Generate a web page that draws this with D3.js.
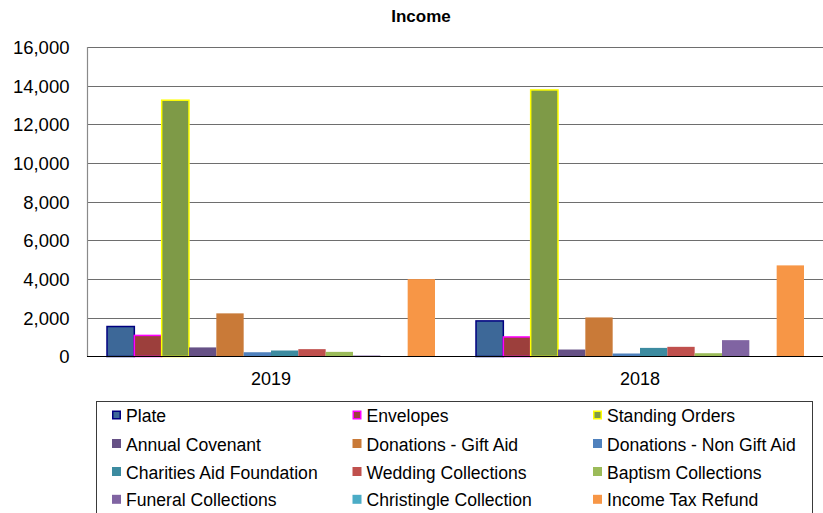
<!DOCTYPE html>
<html>
<head>
<meta charset="utf-8">
<script src="https://cdn.jsdelivr.net/npm/d3@7"></script>
<style>
  html, body { margin: 0; padding: 0; background: #fff; }
  svg { display: block; font-family: "Liberation Sans", Arial, sans-serif; }
</style>
</head>
<body>
<svg id="chart" width="823" height="513"></svg>
<script>
// Income by category, per year
const years = ["2019", "2018"];
const series = [
  "Plate", "Envelopes", "Standing Orders",
  "Annual Covenant", "Donations - Gift Aid", "Donations - Non Gift Aid",
  "Charities Aid Foundation", "Wedding Collections", "Baptism Collections",
  "Funeral Collections", "Christingle Collection", "Income Tax Refund"
];
const values2019 = [1550, 1090, 13250, 470, 2230, 220, 310, 380, 240, 50, 0, 4000];
const values2018 = [1840, 1010, 13780, 360, 2020, 155, 445, 500, 170, 845, 0, 4710];
const yTicks = [0, 2000, 4000, 6000, 8000, 10000, 12000, 14000, 16000];

const fills = [
  "#3D6898", "#9C3F3C", "#7E9A47", "#665186", "#C97A38", "#4F81BD",
  "#3C8BA0", "#C0504D", "#9BBB59", "#8064A2", "#4BACC6", "#F79646"
];
const strokes = ["#000080", "#FF00FF", "#FFFF00", null, null, null, null, null, null, null, null, null];

const valuesByYear = { "2019": values2019, "2018": values2018 };

const svg = d3.select("#chart");

const plot = { left: 87, top: 47, right: 824.5, bottom: 356.5 };

const y = d3.scaleLinear().domain([0, 16000]).range([plot.bottom, plot.top]);
const x0 = d3.scaleBand().domain(years).range([plot.left - 0.5, plot.right]).padding(0);
const x1 = d3.scaleBand().domain(series).range([0, x0.bandwidth()]).paddingInner(0).paddingOuter(0.75);

// Title
svg.append("text")
  .attr("x", 421).attr("y", 22)
  .attr("text-anchor", "middle")
  .attr("font-size", 17).attr("font-weight", "bold")
  .attr("fill", "#000")
  .text("Income");

// Gridlines
svg.append("g")
  .selectAll("line")
  .data(yTicks.filter(d => d > 0))
  .join("line")
  .attr("x1", plot.left).attr("x2", plot.right)
  .attr("y1", d => Math.round(y(d)) + 0.5).attr("y2", d => Math.round(y(d)) + 0.5)
  .attr("stroke", "#6e6e6e").attr("stroke-width", 1);

// Left border of the plot area
svg.append("line")
  .attr("x1", plot.left + 0.5).attr("x2", plot.left + 0.5)
  .attr("y1", plot.top).attr("y2", plot.bottom)
  .attr("stroke", "#8a8a8a").attr("stroke-width", 1.2);

// Bars
const groups = svg.append("g")
  .selectAll("g")
  .data(years)
  .join("g")
  .attr("transform", d => `translate(${x0(d)},0)`);

groups.selectAll("rect")
  .data(yr => series.map((s, i) => ({ s, i, v: valuesByYear[yr][i] })).filter(d => d.v > 0))
  .join("rect")
  .attr("x", d => x1(d.s))
  .attr("width", x1.bandwidth())
  .attr("y", d => y(d.v))
  .attr("height", d => y(0) - y(d.v))
  .attr("fill", d => fills[d.i])
  .attr("stroke", d => strokes[d.i] || "none")
  .attr("stroke-width", 1.5);

// Zero line
svg.append("line")
  .attr("x1", plot.left).attr("x2", plot.right)
  .attr("y1", y(0)).attr("y2", y(0))
  .attr("stroke", "#000").attr("stroke-width", 1.2);

// Y axis labels
const yAxis = d3.axisLeft(y).tickValues(yTicks).tickSize(0).tickPadding(0)
  .tickFormat(d3.format(","));
const yg = svg.append("g").attr("transform", "translate(69.5,0)").call(yAxis);
yg.select(".domain").remove();
yg.selectAll("text").attr("font-size", 18.5).attr("font-family", "Liberation Sans, Arial, sans-serif")
  .attr("fill", "#000").attr("dy", "0.35em");

// X axis labels
const xAxis = d3.axisBottom(x0).tickSize(0).tickPadding(0);
const xg = svg.append("g").attr("transform", `translate(0,${plot.bottom})`).call(xAxis);
xg.select(".domain").remove();
xg.selectAll("text").attr("font-size", 18).attr("font-family", "Liberation Sans, Arial, sans-serif")
  .attr("fill", "#000").attr("dy", null).attr("y", 28.5);

// Legend
const legend = svg.append("g");
legend.append("rect")
  .attr("x", 96.5).attr("y", 401.5).attr("width", 716).attr("height", 130)
  .attr("fill", "#fff").attr("stroke", "#3a3a3a").attr("stroke-width", 1);

const colX = [112, 352.5, 593];
const rowY = [422, 450.5, 478.5, 506.3];
const items = legend.selectAll("g.item")
  .data(series.map((s, i) => ({ s, i })))
  .join("g")
  .attr("class", "item")
  .attr("transform", d => `translate(${colX[d.i % 3]},${rowY[Math.floor(d.i / 3)]})`);

items.append("rect")
  .attr("x", d => strokes[d.i] ? 0.75 : 0)
  .attr("y", d => strokes[d.i] ? -10.75 : -11.5)
  .attr("width", d => strokes[d.i] ? 7.5 : 9)
  .attr("height", d => strokes[d.i] ? 7.5 : 9)
  .attr("fill", d => fills[d.i])
  .attr("stroke", d => strokes[d.i] || "none")
  .attr("stroke-width", 1.5);

items.append("text")
  .attr("x", 14)
  .attr("font-size", 17.6)
  .attr("fill", "#000")
  .text(d => d.s);
</script>
</body>
</html>
